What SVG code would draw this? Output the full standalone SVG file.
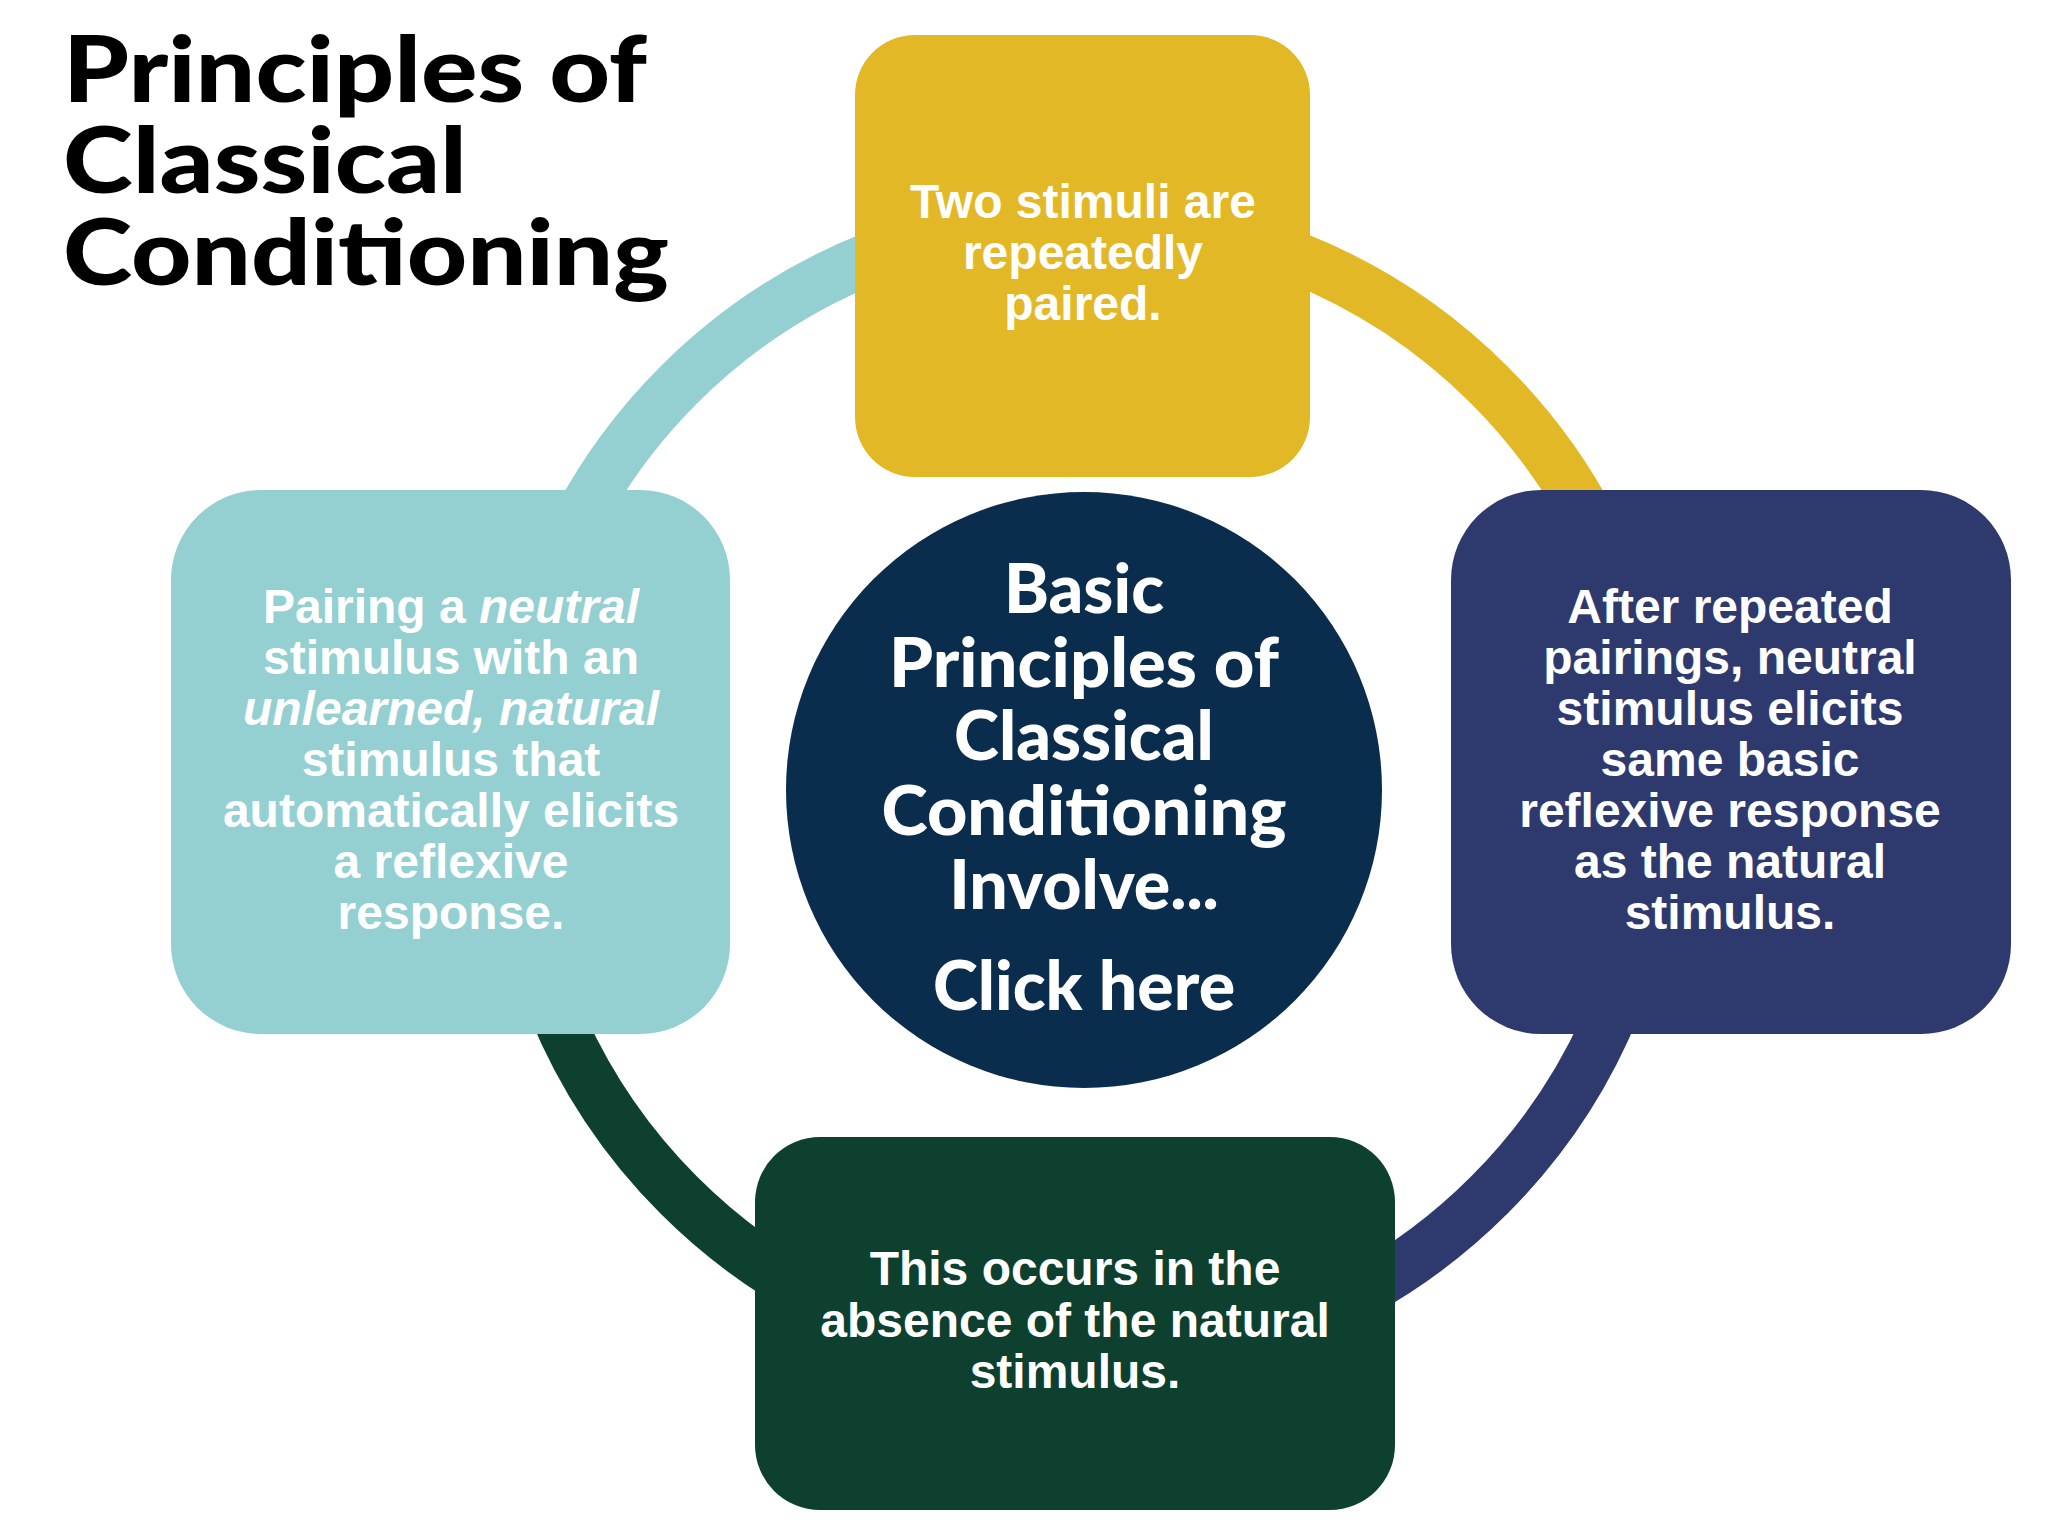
<svg xmlns="http://www.w3.org/2000/svg" width="2048" height="1536" viewBox="0 0 2048 1536">
<style>
.t{font-family:"Liberation Sans",Arial,sans-serif;font-weight:bold;fill:#fff;font-size:48px;text-anchor:middle}
.h{font-family:"Lato","Liberation Sans",sans-serif;font-weight:900;text-anchor:middle;fill:#fff;font-size:68px}
.ti{font-family:"Lato","Liberation Sans",sans-serif;font-weight:900;fill:#000;font-size:92px}
</style>
<rect width="2048" height="1536" fill="#fff"/>
<g id="connectors" fill="none" stroke-width="52">
<path d="M511 790 A573 573 0 0 1 1084 217" stroke="#94CFD2"/>
<path d="M1084 217 A573 573 0 0 1 1657 790" stroke="#E3B826"/>
<path d="M1657 790 A573 573 0 0 1 1084 1363" stroke="#2E3A6E"/>
<path d="M1084 1363 A573 573 0 0 1 511 790" stroke="#0E4030"/>
</g>
<g id="title">
<text class="ti" x="63" y="102" textLength="584" lengthAdjust="spacingAndGlyphs">Principles of</text>
<text class="ti" x="63" y="193" textLength="404" lengthAdjust="spacingAndGlyphs">Classical</text>
<text class="ti" x="63" y="285" textLength="606" lengthAdjust="spacingAndGlyphs">Conditioning</text>
</g>
<g id="node-top">
<rect x="855" y="35" width="455" height="442" rx="60" fill="#E3B826"/>
<text class="t" x="1083" y="218">Two stimuli are</text>
<text class="t" x="1083" y="269">repeatedly</text>
<text class="t" x="1083" y="320">paired.</text>
</g>
<g id="node-left">
<rect x="171" y="490" width="559" height="544" rx="90" fill="#94CFD2"/>
<text class="t" x="451" y="623">Pairing a <tspan font-style="italic">neutral</tspan></text>
<text class="t" x="451" y="674">stimulus with an</text>
<text class="t" x="451" y="725" font-style="italic">unlearned, natural</text>
<text class="t" x="451" y="776">stimulus that</text>
<text class="t" x="451" y="827">automatically elicits</text>
<text class="t" x="451" y="878">a reflexive</text>
<text class="t" x="451" y="929">response.</text>
</g>
<g id="node-right">
<rect x="1451" y="490" width="560" height="544" rx="90" fill="#2E3A6E"/>
<text class="t" x="1730" y="623">After repeated</text>
<text class="t" x="1730" y="674">pairings, neutral</text>
<text class="t" x="1730" y="725">stimulus elicits</text>
<text class="t" x="1730" y="776">same basic</text>
<text class="t" x="1730" y="827">reflexive response</text>
<text class="t" x="1730" y="878">as the natural</text>
<text class="t" x="1730" y="929">stimulus.</text>
</g>
<g id="node-bottom">
<rect x="755" y="1137" width="640" height="373" rx="65" fill="#0E4030"/>
<text class="t" x="1075" y="1285">This occurs in the</text>
<text class="t" x="1075" y="1337">absence of the natural</text>
<text class="t" x="1075" y="1388">stimulus.</text>
</g>
<g id="node-center">
<circle cx="1084" cy="790" r="298" fill="#0A2D4D"/>
<text class="h" x="1084" y="613">Basic</text>
<text class="h" x="1084" y="687" textLength="390" lengthAdjust="spacingAndGlyphs">Principles of</text>
<text class="h" x="1084" y="760">Classical</text>
<text class="h" x="1084" y="835" textLength="405" lengthAdjust="spacingAndGlyphs">Conditioning</text>
<text class="h" x="1084" y="909">Involve...</text>
<text class="h" x="1084" y="1010">Click here</text>
</g>
</svg>
